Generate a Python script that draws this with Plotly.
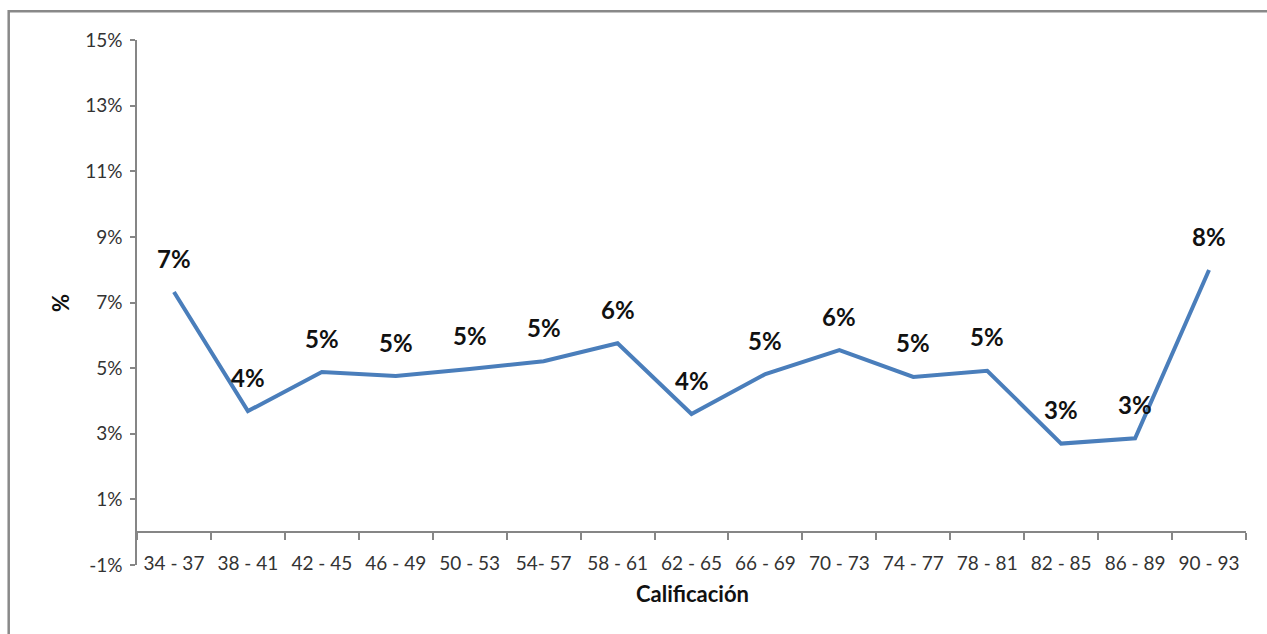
import plotly.graph_objects as go

# Distribution of scores by grade band (percent of students)
categorias = ["34 - 37", "38 - 41", "42 - 45", "46 - 49", "50 - 53", "54- 57",
              "58 - 61", "62 - 65", "66 - 69", "70 - 73", "74 - 77", "78 - 81",
              "82 - 85", "86 - 89", "90 - 93"]
porcentajes = [7.32, 3.69, 4.88, 4.76, 4.97, 5.21, 5.76, 3.60, 4.82, 5.55,
               4.73, 4.92, 2.70, 2.86, 7.99]
y_ticks = [-1, 1, 3, 5, 7, 9, 11, 13, 15]
y_tick_text = [f"{v}%" for v in y_ticks]

FONT = "Lato"
AXIS_GREY = "#868686"
LINE_BLUE = "#4A7EBB"
TEXT = "#333333"

W, H = 1267, 634
L, R, T, B = 137, 21, 40, 69
plot_w = W - L - R
plot_h = H - T - B


def px_x(p):
    return (p - L) / plot_w


def px_y(p):
    return (H - B - p) / plot_h


fig = go.Figure()

fig.add_trace(go.Scatter(
    x=categorias,
    y=porcentajes,
    mode="lines",
    line=dict(color=LINE_BLUE, width=4),
    hoverinfo="x+y",
    showlegend=False,
))

# invisible trace on the overlay axis so it shares the category scale
fig.add_trace(go.Scatter(
    x=categorias, y=porcentajes, xaxis="x2", mode="lines",
    line=dict(width=0), opacity=0, hoverinfo="skip", showlegend=False,
))

annotations = []
for c, v in zip(categorias, porcentajes):
    annotations.append(dict(
        x=c, y=v, xref="x", yref="y", text=f"{round(v)}%",
        showarrow=False, yshift=34, xanchor="center", yanchor="middle",
        font=dict(family=FONT, size=24, color="#111111", weight="bold"),
    ))

annotations.append(dict(
    x=px_x(692), y=px_y(593), xref="paper", yref="paper",
    xanchor="center", yanchor="middle",
    text="Calificación", showarrow=False,
    font=dict(family=FONT, size=22, color="#111111", weight="bold"),
))
annotations.append(dict(
    x=px_x(60), y=px_y(303), xref="paper", yref="paper",
    xanchor="center", yanchor="middle",
    text="%", showarrow=False, textangle=-90,
    font=dict(family=FONT, size=22, color="#111111", weight="bold"),
))

zero_pos = (0 - (-1)) / (15 - (-1))

fig.update_layout(
    width=W, height=H,
    margin=dict(l=L, r=R, t=T, b=B, autoexpand=False),
    paper_bgcolor="white",
    plot_bgcolor="white",
    font=dict(family=FONT, size=19, color=TEXT),
    xaxis=dict(
        type="category",
        categoryorder="array", categoryarray=categorias,
        range=[-0.5, len(categorias) - 0.5],
        anchor="free", position=0.028,
        showline=False, ticks="", showgrid=False, zeroline=False,
        tickfont=dict(family=FONT, size=19, color=TEXT),
    ),
    xaxis2=dict(
        type="category",
        categoryorder="array", categoryarray=categorias,
        range=[-0.5, len(categorias) - 0.5],
        overlaying="x", anchor="free", position=zero_pos,
        showline=True, linecolor=AXIS_GREY, linewidth=1.5,
        ticks="outside", tickson="boundaries", ticklen=7,
        tickcolor=AXIS_GREY, tickwidth=1.5,
        showticklabels=False, showgrid=False, zeroline=False,
    ),
    yaxis=dict(
        range=[-1, 15],
        tickvals=y_ticks, ticktext=y_tick_text,
        showline=True, linecolor=AXIS_GREY, linewidth=1.5,
        ticks="outside", ticklen=5, tickcolor=AXIS_GREY, tickwidth=1.5,
        showgrid=False, zeroline=False,
        tickfont=dict(family=FONT, size=19, color=TEXT),
        ticklabelstandoff=4,
    ),
    annotations=annotations,
    shapes=[dict(
        type="path", xref="paper", yref="paper",
        path=(f"M {px_x(8.7)} {px_y(H + 5)} L {px_x(8.7)} {px_y(11.3)} "
              f"L {px_x(W + 5)} {px_y(11.3)}"),
        line=dict(color="#898989", width=2.5),
    )],
)

fig.write_html("out.html")
